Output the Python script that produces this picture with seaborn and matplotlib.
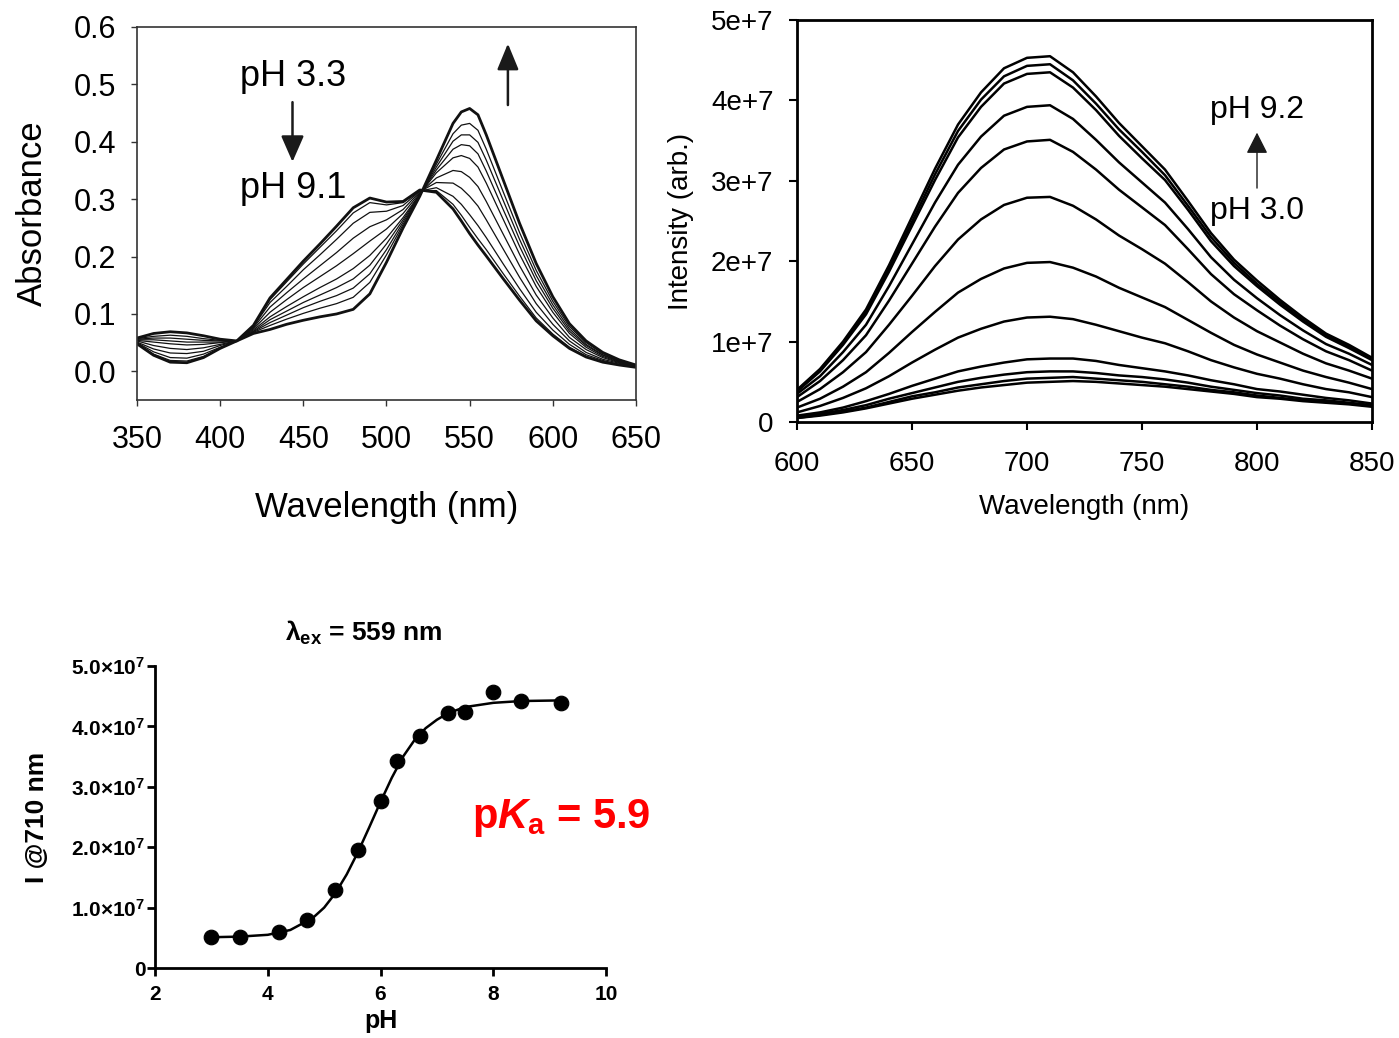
import matplotlib
matplotlib.use("Agg")
import matplotlib.pyplot as plt
import seaborn as sns
import numpy as np

sns.set_theme(style="ticks")
plt.rcParams['font.family'] = ['Liberation Sans', 'DejaVu Sans']
plt.rcParams['text.color'] = 'black'
plt.rcParams['axes.labelcolor'] = 'black'
plt.rcParams['xtick.color'] = 'black'
plt.rcParams['ytick.color'] = 'black'
plt.rcParams['mathtext.fontset'] = 'custom'
plt.rcParams['mathtext.default'] = 'regular'
plt.rcParams['mathtext.rm'] = 'Liberation Sans:bold'
plt.rcParams['mathtext.it'] = 'Liberation Sans:italic:bold'

# absorbance titration, pH 3.3 -> pH 9.1
abs_wl = [350, 360, 370, 380, 390, 400, 410, 420, 430, 440, 450, 460, 470, 480, 490, 500,
          510, 520, 530, 540, 545, 550, 555, 560, 570, 580, 590, 600, 610, 620, 630, 640, 650]
abs_0 = [0.048, 0.028, 0.016, 0.015, 0.024, 0.040, 0.053, 0.080, 0.128, 0.160, 0.192, 0.222, 0.253, 0.285, 0.302, 0.295,
         0.296, 0.316, 0.312, 0.283, 0.262, 0.240, 0.220, 0.201, 0.162, 0.124, 0.088, 0.062, 0.040, 0.025, 0.016, 0.011, 0.007]
abs_1 = [0.049, 0.030, 0.019, 0.018, 0.026, 0.041, 0.053, 0.079, 0.125, 0.156, 0.187, 0.216, 0.245, 0.276, 0.294, 0.290,
         0.294, 0.315, 0.315, 0.291, 0.272, 0.251, 0.231, 0.212, 0.171, 0.131, 0.093, 0.065, 0.042, 0.026, 0.017, 0.012, 0.007]
abs_2 = [0.050, 0.034, 0.024, 0.023, 0.030, 0.042, 0.053, 0.078, 0.120, 0.148, 0.177, 0.203, 0.230, 0.258, 0.277, 0.279,
         0.289, 0.314, 0.320, 0.305, 0.291, 0.273, 0.254, 0.233, 0.188, 0.144, 0.103, 0.072, 0.047, 0.029, 0.019, 0.012, 0.008]
abs_3 = [0.051, 0.039, 0.032, 0.031, 0.035, 0.045, 0.053, 0.076, 0.112, 0.137, 0.161, 0.184, 0.207, 0.232, 0.252, 0.264,
         0.282, 0.313, 0.329, 0.328, 0.319, 0.305, 0.288, 0.264, 0.214, 0.164, 0.118, 0.082, 0.053, 0.033, 0.021, 0.014, 0.008]
abs_4 = [0.053, 0.045, 0.040, 0.038, 0.041, 0.047, 0.053, 0.074, 0.103, 0.125, 0.146, 0.165, 0.184, 0.205, 0.227, 0.248,
         0.275, 0.311, 0.337, 0.350, 0.348, 0.338, 0.322, 0.296, 0.240, 0.184, 0.133, 0.093, 0.059, 0.038, 0.024, 0.015, 0.009]
abs_5 = [0.054, 0.051, 0.048, 0.046, 0.047, 0.050, 0.053, 0.072, 0.095, 0.113, 0.130, 0.146, 0.161, 0.179, 0.202, 0.232,
         0.268, 0.309, 0.346, 0.372, 0.376, 0.371, 0.356, 0.328, 0.266, 0.204, 0.148, 0.103, 0.066, 0.042, 0.026, 0.016, 0.009]
abs_6 = [0.055, 0.055, 0.053, 0.051, 0.051, 0.051, 0.053, 0.070, 0.090, 0.105, 0.120, 0.133, 0.146, 0.161, 0.185, 0.222,
         0.264, 0.308, 0.351, 0.387, 0.395, 0.393, 0.379, 0.349, 0.283, 0.218, 0.158, 0.110, 0.070, 0.045, 0.028, 0.017, 0.010]
abs_7 = [0.056, 0.058, 0.058, 0.056, 0.054, 0.053, 0.053, 0.069, 0.085, 0.098, 0.111, 0.122, 0.132, 0.145, 0.170, 0.212,
         0.260, 0.307, 0.356, 0.401, 0.412, 0.412, 0.399, 0.368, 0.299, 0.230, 0.167, 0.116, 0.074, 0.047, 0.029, 0.018, 0.010]
abs_8 = [0.057, 0.061, 0.063, 0.061, 0.057, 0.054, 0.053, 0.068, 0.080, 0.091, 0.101, 0.110, 0.118, 0.129, 0.155, 0.203,
         0.256, 0.306, 0.361, 0.414, 0.429, 0.432, 0.420, 0.387, 0.314, 0.242, 0.176, 0.122, 0.078, 0.050, 0.031, 0.019, 0.011]
abs_9 = [0.058, 0.066, 0.069, 0.067, 0.062, 0.056, 0.053, 0.066, 0.073, 0.082, 0.089, 0.095, 0.100, 0.108, 0.135, 0.190,
         0.250, 0.305, 0.368, 0.432, 0.452, 0.458, 0.447, 0.412, 0.335, 0.258, 0.188, 0.130, 0.083, 0.053, 0.033, 0.020, 0.011]

# emission spectra (units of 1e6), pH 3.0 -> pH 9.2
em_wl = [600, 610, 620, 630, 640, 650, 660, 670, 680, 690, 700, 710, 720,
         730, 740, 750, 760, 770, 780, 790, 800, 810, 820, 830, 840, 850]
em_1 = [0.5, 0.8, 1.2, 1.7, 2.3, 2.9, 3.4, 3.9, 4.3, 4.6, 4.9, 5.0, 5.1, 5.0, 4.8, 4.6, 4.4, 4.1, 3.8, 3.5, 3.1, 2.9, 2.6, 2.4, 2.2, 1.9]
em_2 = [0.5, 0.9, 1.3, 1.8, 2.5, 3.2, 3.7, 4.3, 4.7, 5.1, 5.4, 5.5, 5.6, 5.4, 5.2, 5.0, 4.7, 4.4, 4.0, 3.7, 3.3, 3.0, 2.7, 2.5, 2.3, 2.0]
em_3 = [0.6, 1.0, 1.5, 2.1, 2.9, 3.6, 4.3, 5.0, 5.5, 5.9, 6.2, 6.3, 6.3, 6.1, 5.8, 5.6, 5.3, 4.9, 4.4, 4.0, 3.6, 3.3, 2.9, 2.7, 2.4, 2.1]
em_4 = [0.8, 1.2, 1.8, 2.6, 3.5, 4.5, 5.4, 6.3, 6.9, 7.4, 7.8, 7.9, 7.9, 7.6, 7.1, 6.7, 6.3, 5.8, 5.2, 4.7, 4.1, 3.8, 3.4, 3.0, 2.7, 2.3]
em_5 = [1.2, 2.0, 3.0, 4.2, 5.7, 7.4, 9.0, 10.5, 11.6, 12.5, 13.0, 13.1, 12.8, 12.1, 11.3, 10.5, 9.8, 8.8, 7.7, 6.8, 6.0, 5.4, 4.7, 4.1, 3.7, 3.1]
em_6 = [1.8, 2.9, 4.4, 6.2, 8.6, 11.2, 13.7, 16.1, 17.8, 19.1, 19.8, 19.9, 19.2, 18.1, 16.7, 15.5, 14.3, 12.7, 11.1, 9.6, 8.4, 7.4, 6.4, 5.6, 4.9, 4.1]
em_7 = [2.5, 4.1, 6.2, 8.7, 12.1, 15.7, 19.4, 22.7, 25.2, 27.0, 27.9, 28.0, 26.9, 25.2, 23.2, 21.5, 19.7, 17.4, 15.0, 13.0, 11.3, 9.9, 8.5, 7.3, 6.4, 5.4]
em_8 = [3.1, 5.1, 7.7, 10.8, 15.1, 19.7, 24.3, 28.5, 31.6, 33.9, 34.9, 35.1, 33.6, 31.4, 28.9, 26.7, 24.5, 21.5, 18.4, 15.9, 13.9, 12.0, 10.3, 8.8, 7.7, 6.4]
em_9 = [3.5, 5.7, 8.7, 12.1, 16.9, 22.1, 27.3, 32.0, 35.5, 38.1, 39.2, 39.4, 37.7, 35.1, 32.3, 29.8, 27.3, 24.0, 20.5, 17.7, 15.4, 13.3, 11.4, 9.7, 8.5, 7.1]
em_10 = [3.8, 6.3, 9.6, 13.4, 18.7, 24.4, 30.1, 35.4, 39.2, 42.1, 43.3, 43.5, 41.6, 38.8, 35.6, 32.8, 30.1, 26.4, 22.5, 19.4, 16.9, 14.6, 12.5, 10.6, 9.2, 7.7]
em_11 = [3.9, 6.5, 9.8, 13.7, 19.1, 24.9, 30.8, 36.2, 40.1, 43.0, 44.3, 44.5, 42.5, 39.6, 36.4, 33.6, 30.7, 26.9, 23.0, 19.8, 17.2, 14.9, 12.7, 10.8, 9.4, 7.9]
em_12 = [4.0, 6.6, 10.0, 14.0, 19.5, 25.5, 31.5, 37.0, 41.0, 44.0, 45.3, 45.5, 43.5, 40.5, 37.2, 34.3, 31.4, 27.5, 23.5, 20.2, 17.6, 15.2, 13.0, 11.0, 9.6, 8.0]

# intensity at 710 nm vs pH
ph_points = [3.0, 3.5, 4.2, 4.7, 5.2, 5.6, 6.0, 6.3, 6.7, 7.2, 7.5, 8.0, 8.5, 9.2]
i710_points = [5.2e6, 5.1e6, 5.9e6, 7.9e6, 1.30e7, 1.95e7, 2.76e7, 3.42e7, 3.84e7, 4.22e7, 4.24e7, 4.57e7, 4.42e7, 4.39e7]
fit_ph = [3.0, 3.5, 4.0, 4.4, 4.8, 5.0, 5.2, 5.4, 5.6, 5.8, 6.0, 6.2, 6.4, 6.6, 6.8, 7.0, 7.2, 7.5, 8.0, 8.5, 9.2]
fit_i = [5.1e6, 5.2e6, 5.5e6, 6.3e6, 8.3e6, 1.0e7, 1.24e7, 1.55e7, 1.92e7, 2.33e7, 2.75e7, 3.15e7, 3.5e7,
         3.77e7, 3.97e7, 4.11e7, 4.22e7, 4.32e7, 4.39e7, 4.42e7, 4.43e7]

abs_curves = [abs_0, abs_1, abs_2, abs_3, abs_4, abs_5, abs_6, abs_7, abs_8, abs_9]
em_curves = [em_1, em_2, em_3, em_4, em_5, em_6, em_7, em_8, em_9, em_10, em_11, em_12]

fig = plt.figure(figsize=(13.99, 10.38), dpi=100)

#%% absorbance
ax1 = fig.add_axes([0.0979, 0.6146, 0.3567, 0.3594])
for i, c in enumerate(abs_curves):
    lw = 2.0 if i in (0, len(abs_curves) - 1) else 0.9
    sns.lineplot(x=abs_wl, y=c, ax=ax1, color="#111111", linewidth=lw)
ax1.set_xlim(350, 650)
ax1.set_ylim(-0.05, 0.6)
ax1.set_xticks([350, 400, 450, 500, 550, 600, 650])
ax1.set_yticks([0.0, 0.1, 0.2, 0.3, 0.4, 0.5, 0.6])
ax1.set_yticklabels(["0.0", "0.1", "0.2", "0.3", "0.4", "0.5", "0.6"])
ax1.tick_params(direction="out", length=4, width=1, labelsize=22, color="#333333")
ax1.tick_params(axis="x", pad=14)
ax1.tick_params(axis="y", pad=11)
for s in ax1.spines.values():
    s.set_color("#333333")
    s.set_linewidth(1.2)
ax1.set_xlabel("Wavelength (nm)", fontsize=25, labelpad=26)
ax1.set_ylabel("Absorbance", fontsize=25, labelpad=18)
ax1.text(443.7, 0.513, "pH 3.3", fontsize=26, ha="center", va="center")
ax1.text(443.7, 0.318, "pH 9.1", fontsize=26, ha="center", va="center")
ax1.annotate("", xy=(443.5, 0.365), xytext=(443.5, 0.469),
             arrowprops=dict(arrowstyle="-|>,head_length=0.8,head_width=0.35", mutation_scale=20,
                             lw=1.8, color="k", shrinkA=0, shrinkB=0))
ax1.annotate("", xy=(573, 0.571), xytext=(573, 0.464),
             arrowprops=dict(arrowstyle="-|>,head_length=0.8,head_width=0.33", mutation_scale=20,
                             lw=1.8, color="k", shrinkA=0, shrinkB=0))

#%% emission
ax2 = fig.add_axes([0.5697, 0.5934, 0.4110, 0.3873])
for c in em_curves:
    sns.lineplot(x=em_wl, y=[v * 1e6 for v in c], ax=ax2, color="black", linewidth=1.8)
ax2.set_xlim(600, 850)
ax2.set_ylim(0, 5e7)
ax2.set_xticks([600, 650, 700, 750, 800, 850])
ax2.set_yticks([0, 1e7, 2e7, 3e7, 4e7, 5e7])
ax2.set_yticklabels(["0", "1e+7", "2e+7", "3e+7", "4e+7", "5e+7"])
ax2.tick_params(direction="out", length=6, width=1.5, labelsize=20, color="black")
ax2.tick_params(axis="x", pad=15)
ax2.tick_params(axis="y", pad=11)
for s in ax2.spines.values():
    s.set_color("black")
    s.set_linewidth(2)
ax2.set_xlabel("Wavelength (nm)", fontsize=20, labelpad=12)
ax2.set_ylabel("Intensity (arb.)", fontsize=20, labelpad=12)
ax2.text(800, 38.8e6, "pH 9.2", fontsize=23, ha="center", va="center")
ax2.text(800, 26.2e6, "pH 3.0", fontsize=23, ha="center", va="center")
ax2.annotate("", xy=(800, 36.0e6), xytext=(800, 29.1e6),
             arrowprops=dict(arrowstyle="-|>,head_length=0.65,head_width=0.33", mutation_scale=20,
                             lw=1.0, color="k", shrinkA=0, shrinkB=0))

#%% pKa titration curve
ax3 = fig.add_axes([0.1108, 0.0674, 0.3224, 0.2910])
sns.lineplot(x=fit_ph, y=fit_i, ax=ax3, color="black", linewidth=1.8)
sns.scatterplot(x=ph_points, y=i710_points, ax=ax3, color="black", s=110, edgecolor="black", zorder=3)
ax3.set_xlim(2, 10)
ax3.set_ylim(0, 5e7)
ax3.set_xticks([2, 4, 6, 8, 10])
ax3.set_xticklabels(["2", "4", "6", "8", "10"], fontweight="bold")
ax3.set_yticks([0, 1e7, 2e7, 3e7, 4e7, 5e7])
ax3.set_yticklabels(["0", "1.0×10$^{7}$", "2.0×10$^{7}$", "3.0×10$^{7}$", "4.0×10$^{7}$", "5.0×10$^{7}$"],
                    fontweight="bold")
ax3.tick_params(direction="out", length=6, width=2, labelsize=15, color="black")
ax3.tick_params(axis="x", pad=6)
ax3.tick_params(axis="y", pad=1)
sns.despine(ax=ax3)
for s in ["left", "bottom"]:
    ax3.spines[s].set_color("black")
    ax3.spines[s].set_linewidth(2)
ax3.set_xlabel("pH", fontsize=18, fontweight="bold", labelpad=4)
ax3.set_ylabel("I @710 nm", fontsize=19, fontweight="bold", labelpad=16)
fig.text(0.2595, 0.3902, "λ$_{ex}$ = 559 nm", fontsize=19, fontweight="bold", ha="center", va="center")
ax3.text(7.62, 2.48e7, "p$\\mathit{K}_{a}$ = 5.9", fontsize=30, fontweight="bold", color="#ff0000",
         ha="left", va="center")

fig.savefig("out.png", dpi=100)
